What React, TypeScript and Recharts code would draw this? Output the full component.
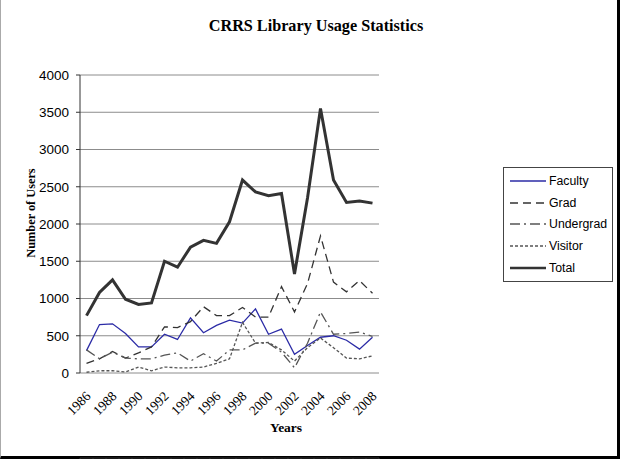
import { LineChart, Line, XAxis, YAxis, CartesianGrid, Legend } from "recharts"

const years = [1986, 1987, 1988, 1989, 1990, 1991, 1992, 1993, 1994, 1995, 1996, 1997, 1998, 1999, 2000, 2001, 2002, 2003, 2004, 2005, 2006, 2007, 2008]
const faculty = [300, 650, 660, 530, 350, 350, 520, 450, 740, 540, 640, 710, 670, 860, 520, 590, 250, 370, 480, 500, 440, 320, 480]
const grad = [130, 190, 290, 200, 270, 350, 620, 610, 690, 890, 770, 770, 880, 750, 750, 1160, 820, 1200, 1840, 1220, 1090, 1240, 1070]
const undergrad = [310, 190, 280, 200, 190, 190, 240, 270, 160, 260, 160, 310, 310, 400, 400, 280, 70, 400, 820, 520, 530, 550, 490]
const visitor = [10, 30, 30, 15, 80, 30, 80, 70, 70, 80, 130, 190, 680, 400, 410, 310, 160, 340, 470, 340, 200, 190, 230]
const total = [770, 1080, 1250, 990, 920, 940, 1500, 1420, 1690, 1780, 1740, 2030, 2590, 2430, 2380, 2410, 1330, 2350, 3550, 2590, 2290, 2310, 2280]

const yTicks = [0, 500, 1000, 1500, 2000, 2500, 3000, 3500, 4000]
const labelYears = [1986, 1988, 1990, 1992, 1994, 1996, 1998, 2000, 2002, 2004, 2006, 2008]

const series = [
  { key: "faculty", name: "Faculty", color: "#2b2ba6", width: 1.3, dash: undefined as string | undefined },
  { key: "grad", name: "Grad", color: "#333333", width: 1.3, dash: "8 5" },
  { key: "undergrad", name: "Undergrad", color: "#555555", width: 1.3, dash: "10 4 2 4" },
  { key: "visitor", name: "Visitor", color: "#555555", width: 1.3, dash: "3 2" },
  { key: "total", name: "Total", color: "#333333", width: 3, dash: undefined },
]

const data = years.map((year, i) => ({
  year,
  faculty: faculty[i],
  grad: grad[i],
  undergrad: undergrad[i],
  visitor: visitor[i],
  total: total[i],
}))

// tick marks sit between categories, like the original spreadsheet chart
const edges = [...years.map((y) => y - 0.5), years[years.length - 1] + 0.5]

const serif = "'Liberation Serif', 'Times New Roman', serif"
const sans = "'Liberation Sans', Arial, sans-serif"

function YearTick({ x, y, payload }: any) {
  return (
    <text
      x={x + 5}
      y={y + 16}
      transform={`rotate(-45 ${x + 5} ${y + 16})`}
      textAnchor="end"
      fontFamily={serif}
      fontSize={13.5}
      fill="#000"
    >
      {payload.value}
    </text>
  )
}

function LegendBox() {
  return (
    <div style={{ border: "1px solid #444", background: "#fff", padding: "2px 0 2px 6px", width: 110, boxSizing: "border-box" }}>
      {series.map((s) => (
        <div key={s.key} style={{ display: "flex", alignItems: "center", height: 21.75 }}>
          <svg width={36} height={6}>
            <line x1={0} y1={3} x2={36} y2={3} stroke={s.color} strokeWidth={s.key === "total" ? 2.5 : 1.3} strokeDasharray={s.dash} />
          </svg>
          <span style={{ fontFamily: sans, fontSize: 12.3, marginLeft: 3, color: "#000" }}>{s.name}</span>
        </div>
      ))}
    </div>
  )
}

export default function App() {
  return (
    <div
      style={{
        position: "absolute",
        left: 0,
        top: 0,
        width: 620,
        height: 459,
        background: "#fff",
        boxSizing: "border-box",
        borderLeft: "1px solid #aaa",
        borderRight: "3px solid #000",
        borderBottom: "3px solid #000",
      }}
    >
      <div style={{ position: "absolute", left: 0, top: 17, width: 630, textAlign: "center", fontFamily: serif, fontWeight: "bold", fontSize: 16.2 }}>
        CRRS Library Usage Statistics
      </div>
      <div
        style={{
          position: "absolute",
          left: 30,
          top: 213,
          transform: "translate(-50%, -50%) rotate(-90deg)",
          whiteSpace: "nowrap",
          fontFamily: serif,
          fontWeight: "bold",
          fontSize: 12.3,
        }}
      >
        Number of Users
      </div>
      <div style={{ position: "absolute", left: 260, top: 420, width: 50, textAlign: "center", fontFamily: serif, fontWeight: "bold", fontSize: 13.5 }}>
        Years
      </div>
      <div style={{ position: "absolute", left: -1, top: 0 }}>
        <LineChart width={620} height={459} data={data} margin={{ top: 75, right: 131, bottom: 0, left: 0 }}>
          <CartesianGrid vertical={false} stroke="#8c8c8c" yAxisId="left" xAxisId="x" />
          <XAxis
            xAxisId="x"
            type="number"
            dataKey="year"
            domain={[1985.5, 2008.5]}
            ticks={edges}
            interval={0}
            tickFormatter={() => ""}
            tickSize={4}
            stroke="#333"
            height={1}
          />
          <XAxis
            xAxisId="lab"
            type="number"
            dataKey="year"
            domain={[1985.5, 2008.5]}
            ticks={labelYears}
            interval={0}
            axisLine={false}
            tickLine={false}
            tick={<YearTick />}
            height={85}
          />
          <YAxis
            yAxisId="left"
            domain={[0, 4000]}
            ticks={yTicks}
            interval={0}
            width={80}
            tickSize={4}
            tickMargin={7}
            stroke="#333"
            tick={{ fill: "#000", fontFamily: sans, fontSize: 13.5 }}
          />
          <YAxis yAxisId="right" orientation="right" domain={[0, 4000]} width={0} tick={false} tickLine={false} stroke="#8c8c8c" />
          <Legend
            verticalAlign="top"
            align="right"
            layout="vertical"
            wrapperStyle={{ position: "absolute", left: 503, top: 167, width: 110 }}
            content={() => <LegendBox />}
          />
          {series.map((s) => (
            <Line
              key={s.key}
              xAxisId="x"
              yAxisId="left"
              type="linear"
              dataKey={s.key}
              name={s.name}
              stroke={s.color}
              strokeWidth={s.width}
              strokeDasharray={s.dash}
              dot={false}
              isAnimationActive={false}
            />
          ))}
        </LineChart>
      </div>
    </div>
  )
}
